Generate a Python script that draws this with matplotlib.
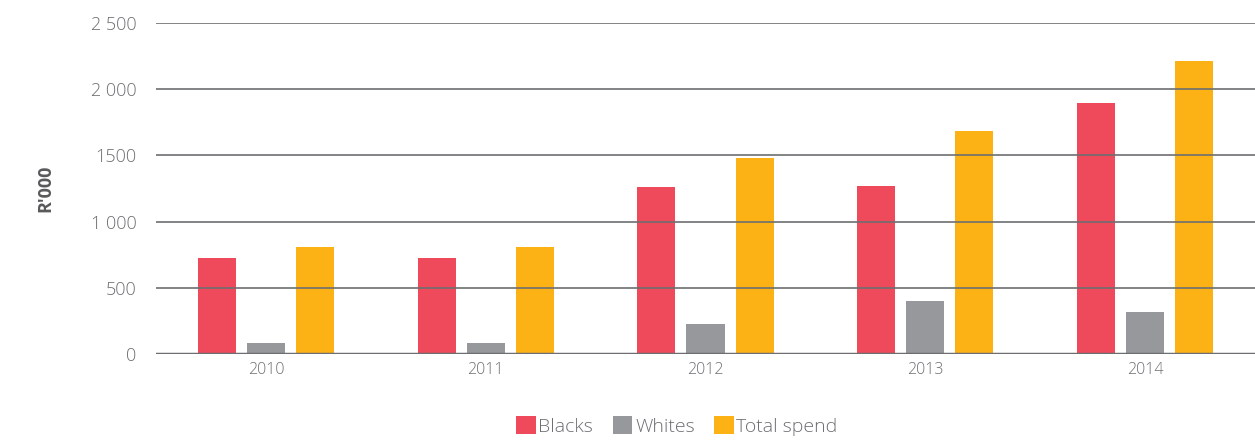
import matplotlib.pyplot as plt
import numpy as np
from matplotlib.ticker import FuncFormatter

# data (R'000)
years = ["2010", "2011", "2012", "2013", "2014"]
blacks = [725, 725, 1265, 1269, 1896]
whites = [83, 83, 227, 400, 317]
total_spend = [808, 808, 1480, 1684, 2213]

series_names = ["Blacks", "Whites", "Total spend"]
series_colors = ["#ee4a5b", "#97989c", "#fcb215"]

GRID = "#6d6e71"
TEXT = "#6d6e71"

plt.rcParams["font.family"] = ["Open Sans", "DejaVu Sans"]

fig = plt.figure(figsize=(12.55, 4.41), dpi=100)
ax = fig.add_axes([156 / 1255, 1 - 354 / 441, 1 - 156 / 1255, 331 / 441])

x = np.arange(len(years))
width = 0.173
offsets = [-0.223, 0.0, 0.223]
for vals, name, color, off in zip([blacks, whites, total_spend], series_names,
                                  series_colors, offsets):
    ax.bar(x + off, vals, width=width, color=color, label=name, zorder=2)

ax.set_xlim(-0.5, len(years) - 0.5)
ax.set_ylim(0, 2500)
ax.set_yticks(range(0, 2501, 500))
ax.yaxis.set_major_formatter(FuncFormatter(
    lambda v, p: "1500" if v == 1500 else f"{int(v):,}".replace(",", " ")))
ax.set_xticks(x)
ax.set_xticklabels(years)

# horizontal grid lines drawn above the bars, as in the reference
for v in range(500, 2501, 500):
    ax.axhline(v, color=GRID, lw=1.2, zorder=3)
ax.axhline(0, color=GRID, lw=2.5, zorder=3)

for s in ax.spines.values():
    s.set_visible(False)
ax.tick_params(axis="both", length=0, colors=TEXT)
ax.tick_params(axis="y", labelsize=13, pad=14)
ax.tick_params(axis="x", labelsize=11.5, pad=6)
for lbl in ax.get_yticklabels() + ax.get_xticklabels():
    lbl.set_fontweight("light")

ax.set_ylabel("R'000", fontsize=13, fontweight="bold", color="#58595b", labelpad=26)

leg = ax.legend(loc="lower center", bbox_to_anchor=(0.474, -0.3),
                ncol=3, frameon=False, fontsize=14, handlelength=1.0,
                handleheight=1.0, handletextpad=0.15, columnspacing=1.0,
                labelcolor=TEXT)
for t in leg.get_texts():
    t.set_fontweight("light")

fig.savefig("out.png", dpi=100)
